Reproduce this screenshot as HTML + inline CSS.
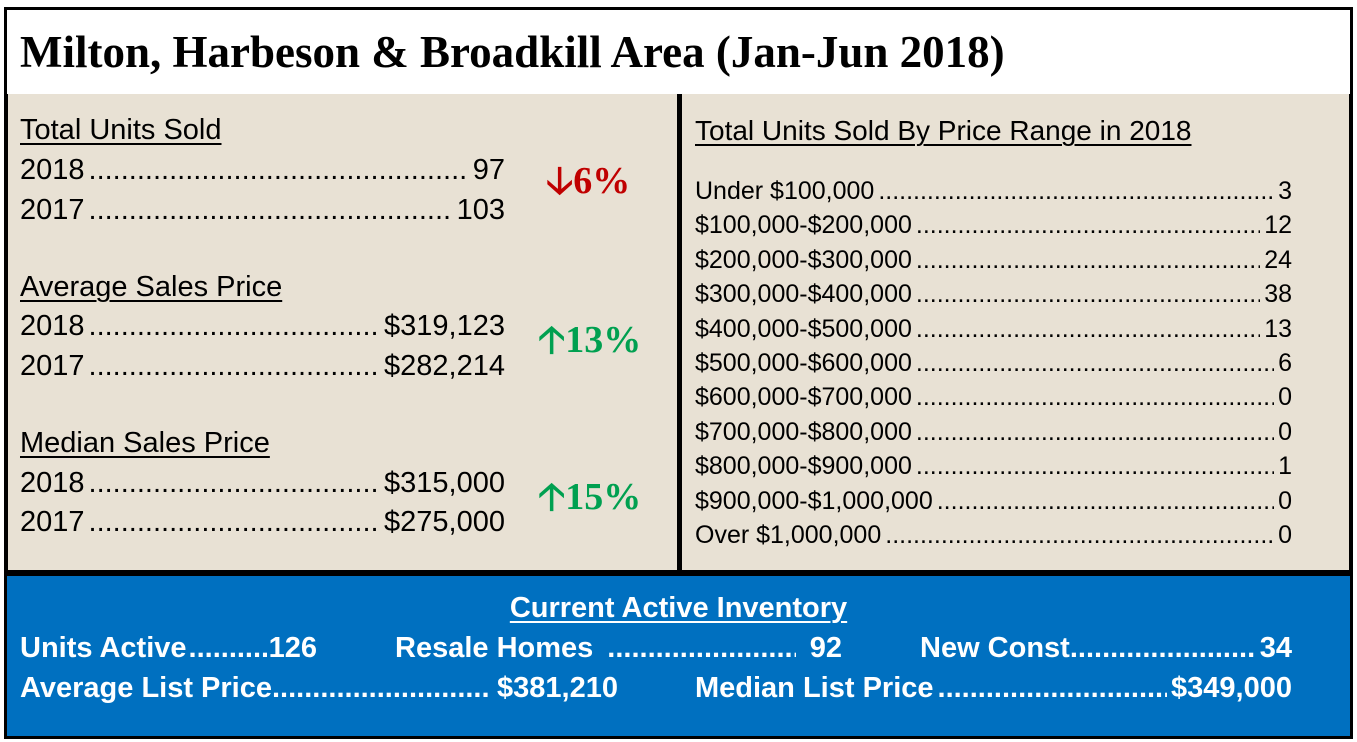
<!DOCTYPE html>
<html><head><meta charset="utf-8"><style>
*{margin:0;padding:0;box-sizing:border-box}
body{width:1357px;height:742px;background:#fff;position:relative;overflow:hidden;font-family:"Liberation Sans",sans-serif}
.abs{position:absolute}
.row{position:absolute;display:flex;white-space:nowrap;height:36px;line-height:36px;align-items:baseline}
.lead{flex:1;overflow:hidden;white-space:nowrap;margin:0 4px}
.lead::after{content:"................................................................................................................................................................................"}
.h{position:absolute;text-decoration:underline;text-decoration-thickness:2px;text-underline-offset:4px;white-space:nowrap;line-height:36px;height:36px}
.l{font-size:29px;color:#000}
.r{font-size:25px;color:#000;height:30px;line-height:30px}
.w{font-size:29px;color:#fff;font-weight:bold}
.pct{position:absolute;font-family:"Liberation Serif",serif;font-weight:bold;font-size:38px;line-height:44px;height:44px;white-space:nowrap}
</style></head><body>
<div class="abs" style="left:4px;top:7px;width:1349px;height:91px;border:3px solid #000;border-bottom:4px solid #000;background:#fff"></div>
<div class="abs" style="left:20px;top:24px;font-family:'Liberation Serif',serif;font-weight:bold;font-size:45px;line-height:56px;white-space:nowrap">Milton, Harbeson &amp; Broadkill Area (Jan-Jun 2018)</div>
<div class="abs" style="left:4px;top:94px;width:679px;height:482px;background:#e8e1d4;border-left:4px solid #000;border-right:6px solid #000"></div>
<div class="abs" style="left:682px;top:94px;width:671px;height:482px;background:#e8e1d4;border-right:4px solid #000"></div>
<div class="abs" style="left:4px;top:570px;width:1349px;height:169px;background:#0070c0;border:3px solid #000;border-top:6px solid #000"></div>

<div class="h l" style="left:20px;top:112px">Total Units Sold</div>
<div class="row l" style="left:20px;top:152px;width:485px"><span>2018</span><span class="lead"></span><span>97</span></div>
<div class="row l" style="left:20px;top:192px;width:485px"><span>2017</span><span class="lead"></span><span>103</span></div>
<div class="pct" style="left:546px;top:159px;color:#c00000">&#129123;6%</div>

<div class="h l" style="left:20px;top:269px">Average Sales Price</div>
<div class="row l" style="left:20px;top:308px;width:485px"><span>2018</span><span class="lead"></span><span>$319,123</span></div>
<div class="row l" style="left:20px;top:348px;width:485px"><span>2017</span><span class="lead"></span><span>$282,214</span></div>
<div class="pct" style="left:538px;top:318px;color:#00a050">&#129121;13%</div>

<div class="h l" style="left:20px;top:425px">Median Sales Price</div>
<div class="row l" style="left:20px;top:465px;width:485px"><span>2018</span><span class="lead"></span><span>$315,000</span></div>
<div class="row l" style="left:20px;top:504px;width:485px"><span>2017</span><span class="lead"></span><span>$275,000</span></div>
<div class="pct" style="left:538px;top:475px;color:#00a050">&#129121;15%</div>

<div class="h l" style="left:695px;top:113px;font-size:28px">Total Units Sold By Price Range in 2018</div>
<div id="ranges"></div>

<div class="h w" style="left:0;width:1357px;text-align:center;top:590px">Current Active Inventory</div>
<div class="row w" style="left:20px;top:630px;width:297px"><span>Units Active</span><span class="lead" style="margin:0 2px"></span><span>126</span></div>
<div class="row w" style="left:395px;top:630px;width:447px"><span>Resale Homes</span><span class="lead" style="margin:0 14px"></span><span>92</span></div>
<div class="row w" style="left:920px;top:630px;width:372px"><span>New Const</span><span class="lead" style="margin:0 4px 0 0"></span><span>34</span></div>
<div class="row w" style="left:20px;top:670px;width:598px"><span>Average List Price</span><span class="lead" style="margin:0 8px 0 0"></span><span>$381,210</span></div>
<div class="row w" style="left:695px;top:670px;width:597px"><span>Median List Price</span><span class="lead"></span><span>$349,000</span></div>

<script>
const rangeLabels=["Under $100,000","$100,000-$200,000","$200,000-$300,000","$300,000-$400,000","$400,000-$500,000","$500,000-$600,000","$600,000-$700,000","$700,000-$800,000","$800,000-$900,000","$900,000-$1,000,000","Over $1,000,000"];
const rangeCounts=[3,12,24,38,13,6,0,0,1,0,0];
const host=document.getElementById('ranges');
rangeLabels.forEach((lab,i)=>{
  const d=document.createElement('div');
  d.className='row r';
  
  
  d.style.left='695px';d.style.width='597px';d.style.top=(176+i*34.4)+'px';
  d.innerHTML='<span>'+lab+'</span><span class="lead"></span><span>'+rangeCounts[i]+'</span>';
  host.appendChild(d);
});
</script>
</body></html>
